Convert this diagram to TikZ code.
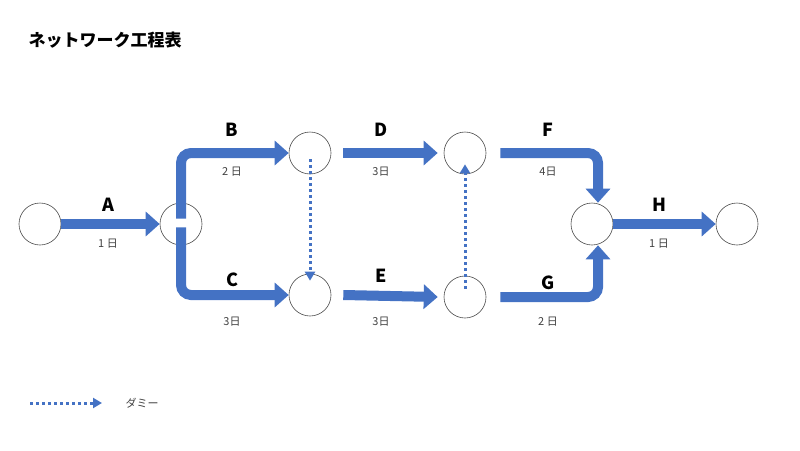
\documentclass[tikz,border=0pt]{standalone}
\usepackage{fontspec}
\setmainfont{Noto Sans CJK JP}
\usetikzlibrary{arrows.meta}
\usetikzlibrary{positioning}
\definecolor{arrowblue}{RGB}{68,114,196}
\tikzstyle{event} = [circle, minimum size=42pt, inner sep=0pt, draw=black!70, fill=white, line width=0.6pt]
\tikzstyle{task} = [arrowblue, line width=10pt, rounded corners=10pt, -{Triangle[width=24pt,length=14pt]}]
\tikzstyle{dummy} = [arrowblue, line width=3pt, dash pattern=on 3pt off 3pt, -{Triangle[width=10pt,length=9pt]}]
\tikzstyle{tasklabel} = [font=\bfseries\fontsize{18}{18}\selectfont]
\tikzstyle{days} = [font=\fontsize{11}{11}\selectfont, text=black!75]

\begin{document}
\begin{tikzpicture}[x=1pt, y=-1pt]
        \useasboundingbox (0,0) rectangle (800,450);

        % Title
        \node (title) [anchor=west, font=\bfseries\fontsize{17}{17}\selectfont] at (25,40) {ネットワーク工程表};

        % Nodes
        \node (e1) [event] at (40,224) {};
        \node (e2) [event] at (181,224) {};
        \node (e3) [event] at (310,153) {};
        \node (e4) [event] at (310,295) {};
        \node (e5) [event] at (465,153) {};
        \node (e6) [event] at (465,297) {};
        \node (e7) [event] at (592,224) {};
        \node (e8) [event] at (737,224) {};

        % Arrows
        \draw [task] (e1) -- (e2);
        \draw [task] ([yshift=-16pt]e2.north) |- (e3);
        \draw [task] ([yshift=18pt]e2.south) |- (e4);
        \draw [task] ([xshift=12pt]e3.east) -- ([xshift=-6pt]e5.west);
        \draw [task] ([xshift=12pt]e4.east) -- ([xshift=-6pt]e6.west);
        \draw [task] ([xshift=14pt]e5.east) -| ([xshift=6pt]e7.north);
        \draw [task] ([xshift=14pt]e6.east) -| ([xshift=6pt]e7.south);
        \draw [task] (e7) -- (e8);
        \draw [dummy] ([yshift=15pt]e3.south) -- ([yshift=-7pt]e4.north);
        \draw [dummy] ([yshift=-13pt]e6.north) -- ([yshift=10pt]e5.south);

        % Labels
        \node (la) [tasklabel] at (108,205) {A};
        \node (da) [days] at (108,244) {1 日};
        \node (lb) [tasklabel] at (232,130) {B};
        \node (db) [days] at (232,172) {2 日};
        \node (lc) [tasklabel] at (232,280) {C};
        \node (dc) [days] at (232,322) {3日};
        \node (ld) [tasklabel] at (381,130) {D};
        \node (dd) [days] at (381,172) {3日};
        \node (le) [tasklabel] at (381,276) {E};
        \node (de) [days] at (381,322) {3日};
        \node (lf) [tasklabel] at (548,130) {F};
        \node (df) [days] at (548,172) {4日};
        \node (lg) [tasklabel] at (548,283) {G};
        \node (dg) [days] at (548,322) {2 日};
        \node (lh) [tasklabel] at (659,205) {H};
        \node (dh) [days] at (659,244) {1 日};

        % Legend
        \coordinate (k1) at (30,403);
        \coordinate (k2) at (102,403);
        \draw [dummy] (k1) -- (k2);
        \node (key) [days, anchor=west] at (122,403) {ダミー};

    \end{tikzpicture}
\end{document}
